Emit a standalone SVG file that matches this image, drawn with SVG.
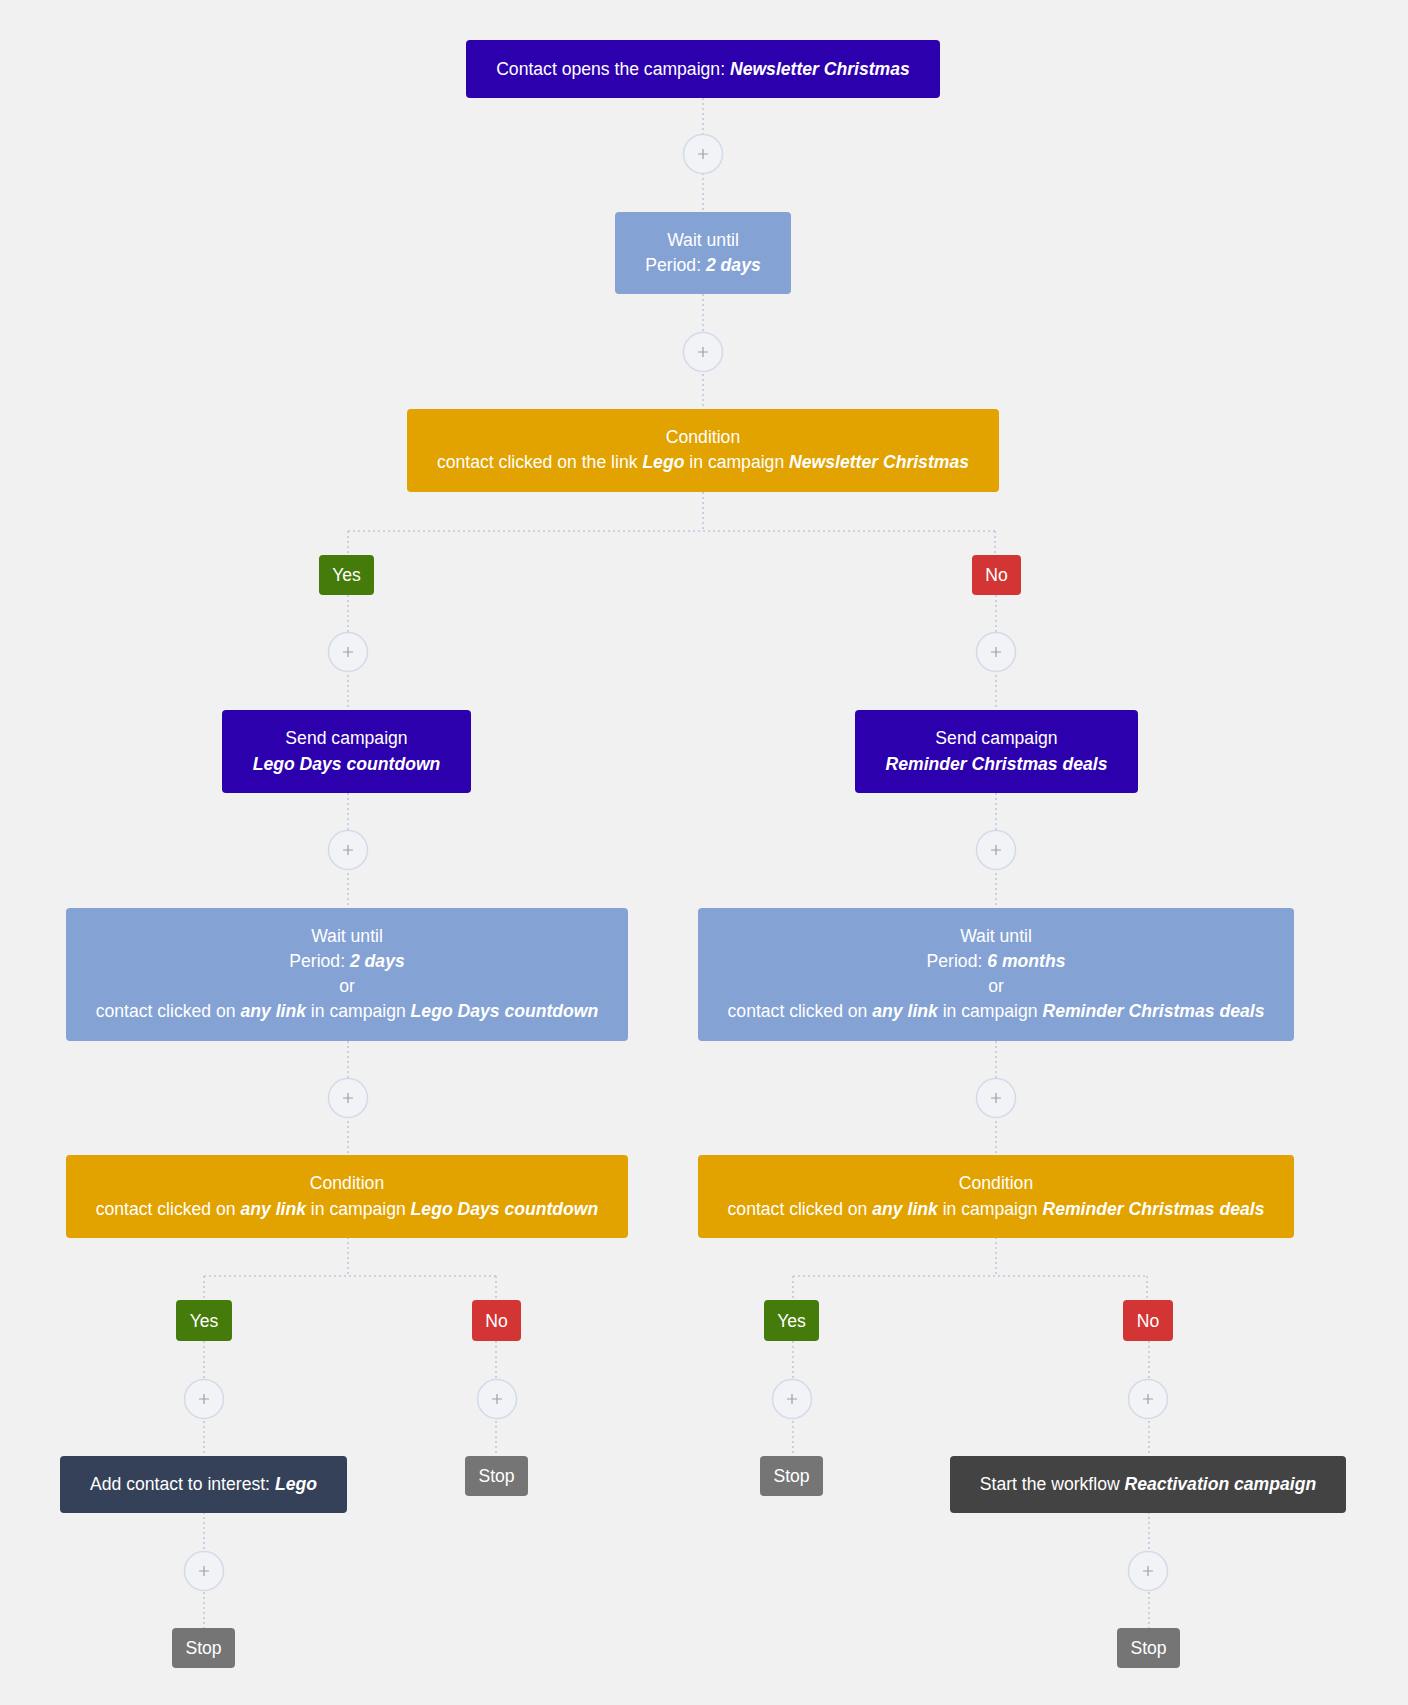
<svg xmlns="http://www.w3.org/2000/svg" width="1408" height="1705" viewBox="0 0 1408 1705">
<style>
text{font-family:"Liberation Sans",Arial,sans-serif;font-size:17.6px;fill:#fff;text-anchor:middle}
.b{font-weight:bold;font-style:italic}
.c{stroke:#c0c8dc;stroke-width:1.6;stroke-dasharray:2 3;fill:none}
.p circle{fill:#f1f3f6;stroke:#d3dae8;stroke-width:1.5}
.p path{stroke:#9aa0ab;stroke-width:1.2}
.pu{fill:#2d00ad}.wa{fill:#84a2d4}.co{fill:#e2a200}.ye{fill:#457b0a}.no{fill:#d33535}.st{fill:#757575}.dk{fill:#344159}.wf{fill:#434343}
</style>
<rect width="1408" height="1705" fill="#f0f1f0"/>
<g id="connectors">
<path class="c" d="M703 98V212M703 294V409M703 492V531M348 531H995M348 531V555M995 531V555M348 595V710M996 595V710M348 793V908M996 793V908M348 1041V1155M996 1041V1155M348 1237V1276M204 1276H496M204 1276V1300M496 1276V1300M996 1237V1276M793 1276H1147M793 1276V1300M1147 1276V1300M204 1341V1456M496 1341V1456M793 1341V1456M1149 1341V1456M204 1512V1628M1149 1512V1628"/>
</g>
<g id="plus" class="p">
<g><circle cx="703" cy="154" r="19.5"/><path d="M698 154h10M703 149v10"/></g>
<g><circle cx="703" cy="352" r="19.5"/><path d="M698 352h10M703 347v10"/></g>
<g><circle cx="348" cy="652" r="19.5"/><path d="M343 652h10M348 647v10"/></g>
<g><circle cx="996" cy="652" r="19.5"/><path d="M991 652h10M996 647v10"/></g>
<g><circle cx="348" cy="850" r="19.5"/><path d="M343 850h10M348 845v10"/></g>
<g><circle cx="996" cy="850" r="19.5"/><path d="M991 850h10M996 845v10"/></g>
<g><circle cx="348" cy="1098" r="19.5"/><path d="M343 1098h10M348 1093v10"/></g>
<g><circle cx="996" cy="1098" r="19.5"/><path d="M991 1098h10M996 1093v10"/></g>
<g><circle cx="204" cy="1399" r="19.5"/><path d="M199 1399h10M204 1394v10"/></g>
<g><circle cx="497" cy="1399" r="19.5"/><path d="M492 1399h10M497 1394v10"/></g>
<g><circle cx="792" cy="1399" r="19.5"/><path d="M787 1399h10M792 1394v10"/></g>
<g><circle cx="1148" cy="1399" r="19.5"/><path d="M1143 1399h10M1148 1394v10"/></g>
<g><circle cx="204" cy="1571" r="19.5"/><path d="M199 1571h10M204 1566v10"/></g>
<g><circle cx="1148" cy="1571" r="19.5"/><path d="M1143 1571h10M1148 1566v10"/></g>
</g>
<g id="start"><rect class="pu" x="466" y="40" width="474" height="58" rx="4"/><text x="703" y="75">Contact opens the campaign: <tspan class="b">Newsletter Christmas</tspan></text></g>
<g id="wait1"><rect class="wa" x="615" y="212" width="176" height="82" rx="4"/><text x="703" y="246">Wait until</text><text x="703" y="271">Period: <tspan class="b">2 days</tspan></text></g>
<g id="cond1"><rect class="co" x="407" y="409" width="592" height="83" rx="4"/><text x="703" y="443">Condition</text><text x="703" y="468">contact clicked on the link <tspan class="b">Lego</tspan> in campaign <tspan class="b">Newsletter Christmas</tspan></text></g>
<g id="yes1"><rect class="ye" x="319" y="555" width="55" height="40" rx="4"/><text x="346.5" y="581">Yes</text></g>
<g id="no1"><rect class="no" x="972" y="555" width="49" height="40" rx="4"/><text x="996.5" y="581">No</text></g>
<g id="send1"><rect class="pu" x="222" y="710" width="249" height="83" rx="4"/><text x="346.5" y="744">Send campaign</text><text x="346.5" y="770" class="b">Lego Days countdown</text></g>
<g id="send2"><rect class="pu" x="855" y="710" width="283" height="83" rx="4"/><text x="996.5" y="744">Send campaign</text><text x="996.5" y="770" class="b">Reminder Christmas deals</text></g>
<g id="wait2"><rect class="wa" x="66" y="908" width="562" height="133" rx="4"/><text x="347" y="942">Wait until</text><text x="347" y="967">Period: <tspan class="b">2 days</tspan></text><text x="347" y="992">or</text><text x="347" y="1017">contact clicked on <tspan class="b">any link</tspan> in campaign <tspan class="b">Lego Days countdown</tspan></text></g>
<g id="wait3"><rect class="wa" x="698" y="908" width="596" height="133" rx="4"/><text x="996" y="942">Wait until</text><text x="996" y="967">Period: <tspan class="b">6 months</tspan></text><text x="996" y="992">or</text><text x="996" y="1017">contact clicked on <tspan class="b">any link</tspan> in campaign <tspan class="b">Reminder Christmas deals</tspan></text></g>
<g id="cond2"><rect class="co" x="66" y="1155" width="562" height="83" rx="4"/><text x="347" y="1189">Condition</text><text x="347" y="1215">contact clicked on <tspan class="b">any link</tspan> in campaign <tspan class="b">Lego Days countdown</tspan></text></g>
<g id="cond3"><rect class="co" x="698" y="1155" width="596" height="83" rx="4"/><text x="996" y="1189">Condition</text><text x="996" y="1215">contact clicked on <tspan class="b">any link</tspan> in campaign <tspan class="b">Reminder Christmas deals</tspan></text></g>
<g id="yes2"><rect class="ye" x="176" y="1300" width="56" height="41" rx="4"/><text x="204" y="1327">Yes</text></g>
<g id="no2"><rect class="no" x="472" y="1300" width="49" height="41" rx="4"/><text x="496.5" y="1327">No</text></g>
<g id="yes3"><rect class="ye" x="764" y="1300" width="55" height="41" rx="4"/><text x="791.5" y="1327">Yes</text></g>
<g id="no3"><rect class="no" x="1123" y="1300" width="50" height="41" rx="4"/><text x="1148" y="1327">No</text></g>
<g id="interest"><rect class="dk" x="60" y="1456" width="287" height="57" rx="4"/><text x="203.5" y="1490">Add contact to interest: <tspan class="b">Lego</tspan></text></g>
<g id="stop1"><rect class="st" x="465" y="1456" width="63" height="40" rx="4"/><text x="496.5" y="1482">Stop</text></g>
<g id="stop2"><rect class="st" x="760" y="1456" width="63" height="40" rx="4"/><text x="791.5" y="1482">Stop</text></g>
<g id="workflow"><rect class="wf" x="950" y="1456" width="396" height="57" rx="4"/><text x="1148" y="1490">Start the workflow <tspan class="b">Reactivation campaign</tspan></text></g>
<g id="stop3"><rect class="st" x="172" y="1628" width="63" height="40" rx="4"/><text x="203.5" y="1654">Stop</text></g>
<g id="stop4"><rect class="st" x="1117" y="1628" width="63" height="40" rx="4"/><text x="1148.5" y="1654">Stop</text></g>
</svg>
